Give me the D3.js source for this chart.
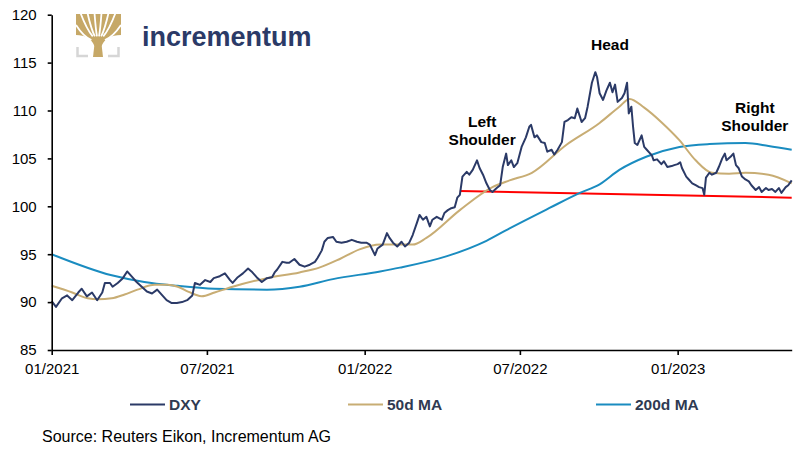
<!DOCTYPE html>
<html>
<head>
<meta charset="utf-8">
<script src="https://cdn.jsdelivr.net/npm/d3@7"></script>
<style>
  body { margin: 0; background: #fff; }
  #chart { width: 794px; height: 449px; }
  text { font-family: "Liberation Sans", Arial, sans-serif; }
  .axis path, .axis line { stroke: #000; stroke-width: 1.6; }
  .axis text { font-size: 15px; fill: #000; }
  .label-ann { font-size: 15.5px; font-weight: bold; fill: #000; }
  .legend text { font-family: "Liberation Sans Narrow", "Arial Narrow", sans-serif; font-size: 15.5px; font-weight: bold; fill: #2f3a52; }
  .source { font-family: "Liberation Sans Narrow", "Arial Narrow", sans-serif; font-size: 16px; fill: #000; }
</style>
</head>
<body>
<div id="chart"></div>
<script>
// DXY (date, index level)
const dxy = [
  ['2021-01-01', 90.1], ['2021-01-06', 89.5], ['2021-01-13', 90.4], ['2021-01-19', 90.7], ['2021-01-25', 90.2],
  ['2021-02-01', 91.0], ['2021-02-05', 91.4], ['2021-02-11', 90.6], ['2021-02-17', 91.0], ['2021-02-23', 90.2],
  ['2021-03-01', 91.0], ['2021-03-04', 92.0], ['2021-03-10', 92.0], ['2021-03-13', 91.6], ['2021-03-19', 92.0],
  ['2021-03-25', 92.5], ['2021-03-30', 93.2], ['2021-04-05', 92.6], ['2021-04-10', 92.1], ['2021-04-16', 91.6],
  ['2021-04-22', 91.1], ['2021-04-28', 90.9], ['2021-05-04', 91.3], ['2021-05-10', 90.7], ['2021-05-15', 90.2],
  ['2021-05-21', 89.9], ['2021-05-27', 89.9], ['2021-06-02', 90.0], ['2021-06-08', 90.2], ['2021-06-14', 90.7],
  ['2021-06-17', 92.0], ['2021-06-23', 91.8], ['2021-06-29', 92.3], ['2021-07-05', 92.1], ['2021-07-09', 92.5],
  ['2021-07-16', 92.7], ['2021-07-22', 93.0], ['2021-07-28', 92.3], ['2021-07-31', 92.0], ['2021-08-06', 92.6],
  ['2021-08-12', 93.0], ['2021-08-18', 93.5], ['2021-08-22', 93.2], ['2021-08-28', 92.6], ['2021-09-03', 92.1],
  ['2021-09-09', 92.5], ['2021-09-15', 92.6], ['2021-09-18', 93.1], ['2021-09-21', 93.4], ['2021-09-27', 94.2],
  ['2021-10-02', 94.1], ['2021-10-05', 94.1], ['2021-10-11', 94.5], ['2021-10-17', 93.9], ['2021-10-23', 93.7],
  ['2021-10-29', 93.9], ['2021-11-04', 94.2], ['2021-11-07', 94.6], ['2021-11-12', 95.4], ['2021-11-15', 96.3],
  ['2021-11-19', 96.7], ['2021-11-25', 96.8], ['2021-11-29', 96.3], ['2021-12-05', 96.2], ['2021-12-11', 96.3],
  ['2021-12-17', 96.5], ['2021-12-23', 96.3], ['2021-12-28', 96.2], ['2022-01-03', 96.2], ['2022-01-07', 96.0],
  ['2022-01-13', 94.9], ['2022-01-16', 95.6], ['2022-01-22', 96.0], ['2022-01-27', 97.2], ['2022-01-30', 96.7],
  ['2022-02-03', 96.2], ['2022-02-08', 95.8], ['2022-02-13', 96.3], ['2022-02-17', 95.8], ['2022-02-22', 96.2],
  ['2022-02-26', 97.0], ['2022-03-03', 98.3], ['2022-03-06', 99.1], ['2022-03-10', 98.6], ['2022-03-14', 98.9],
  ['2022-03-18', 97.9], ['2022-03-21', 98.6], ['2022-03-26', 98.9], ['2022-04-01', 98.6], ['2022-04-04', 99.3],
  ['2022-04-08', 99.6], ['2022-04-12', 99.8], ['2022-04-16', 99.9], ['2022-04-19', 100.9], ['2022-04-22', 101.2],
  ['2022-04-25', 103.1], ['2022-04-30', 103.6], ['2022-05-03', 103.3], ['2022-05-07', 103.8], ['2022-05-12', 104.8],
  ['2022-05-15', 104.0], ['2022-05-19', 103.3], ['2022-05-23', 102.4], ['2022-05-27', 101.7], ['2022-05-30', 101.5],
  ['2022-06-04', 101.9], ['2022-06-08', 102.2], ['2022-06-11', 104.1], ['2022-06-15', 105.5], ['2022-06-17', 104.3],
  ['2022-06-21', 104.8], ['2022-06-24', 104.1], ['2022-06-28', 104.5], ['2022-07-03', 106.2], ['2022-07-08', 107.2],
  ['2022-07-12', 108.3], ['2022-07-14', 108.5], ['2022-07-18', 107.2], ['2022-07-21', 107.4], ['2022-07-26', 106.7],
  ['2022-07-30', 106.6], ['2022-08-02', 105.7], ['2022-08-07', 105.9], ['2022-08-10', 105.4], ['2022-08-14', 105.9],
  ['2022-08-19', 106.7], ['2022-08-22', 108.8], ['2022-08-26', 109.0], ['2022-08-30', 109.3], ['2022-09-03', 109.2],
  ['2022-09-06', 110.2], ['2022-09-11', 108.8], ['2022-09-15', 109.2], ['2022-09-18', 110.4], ['2022-09-23', 112.9],
  ['2022-09-27', 114.0], ['2022-09-29', 113.5], ['2022-10-02', 111.8], ['2022-10-06', 111.1], ['2022-10-10', 112.1],
  ['2022-10-14', 112.9], ['2022-10-17', 111.9], ['2022-10-20', 112.7], ['2022-10-23', 110.9], ['2022-10-28', 111.3],
  ['2022-10-31', 111.8], ['2022-11-03', 112.9], ['2022-11-05', 109.7], ['2022-11-08', 110.4], ['2022-11-10', 108.3],
  ['2022-11-12', 106.6], ['2022-11-15', 106.4], ['2022-11-20', 107.4], ['2022-11-23', 106.2], ['2022-11-26', 105.9],
  ['2022-11-29', 105.6], ['2022-12-02', 105.3], ['2022-12-04', 104.8], ['2022-12-08', 104.9], ['2022-12-13', 104.4],
  ['2022-12-16', 104.7], ['2022-12-20', 104.1], ['2022-12-25', 104.2], ['2022-12-28', 104.3], ['2023-01-01', 104.4],
  ['2023-01-04', 104.6], ['2023-01-06', 104.0], ['2023-01-11', 103.1], ['2023-01-14', 102.8], ['2023-01-18', 102.4],
  ['2023-01-22', 102.2], ['2023-01-26', 102.0], ['2023-01-30', 101.9], ['2023-02-01', 101.2], ['2023-02-03', 103.0],
  ['2023-02-07', 103.5], ['2023-02-10', 103.3], ['2023-02-15', 103.5], ['2023-02-18', 104.1], ['2023-02-22', 105.0],
  ['2023-02-25', 105.5], ['2023-02-27', 104.8], ['2023-03-04', 105.2], ['2023-03-07', 105.5], ['2023-03-10', 104.3],
  ['2023-03-13', 104.0], ['2023-03-17', 103.1], ['2023-03-21', 102.8], ['2023-03-25', 102.6], ['2023-03-28', 102.2],
  ['2023-04-02', 101.7], ['2023-04-06', 102.0], ['2023-04-09', 101.5], ['2023-04-14', 101.9], ['2023-04-17', 101.7],
  ['2023-04-21', 101.8], ['2023-04-25', 101.5], ['2023-04-29', 101.9], ['2023-05-02', 101.4], ['2023-05-07', 102.0],
  ['2023-05-10', 102.2], ['2023-05-14', 102.7]
];

// 50 day moving average
const ma50 = [
  ['2021-01-01', 91.7], ['2021-01-25', 91.0], ['2021-02-12', 90.4], ['2021-02-24', 90.3], ['2021-03-12', 90.4],
  ['2021-03-27', 90.8], ['2021-04-11', 91.3], ['2021-05-01', 91.8], ['2021-05-16', 91.8], ['2021-05-28', 91.6],
  ['2021-06-09', 91.1], ['2021-06-17', 90.8], ['2021-06-25', 90.6], ['2021-07-10', 91.0], ['2021-07-31', 91.6],
  ['2021-09-09', 92.5], ['2021-10-17', 93.1], ['2021-11-09', 93.6], ['2021-12-03', 94.5], ['2021-12-26', 95.5],
  ['2022-01-19', 96.0], ['2022-02-03', 96.0], ['2022-02-26', 96.0], ['2022-03-14', 96.7], ['2022-04-22', 99.6],
  ['2022-05-30', 102.0], ['2022-06-19', 102.7], ['2022-07-15', 103.5], ['2022-08-24', 106.4], ['2022-10-02', 108.7],
  ['2022-10-25', 110.4], ['2022-11-06', 111.2], ['2022-11-23', 110.3], ['2022-12-14', 108.7], ['2023-01-03', 106.9],
  ['2023-01-22', 104.8], ['2023-02-10', 103.5], ['2023-03-02', 103.4], ['2023-03-21', 103.5], ['2023-04-17', 103.3],
  ['2023-05-14', 102.4]
];

// 200 day moving average
const ma200 = [
  ['2021-01-01', 95.0], ['2021-03-12', 92.8], ['2021-04-19', 92.1], ['2021-05-28', 91.7], ['2021-07-10', 91.4],
  ['2021-09-09', 91.3], ['2021-10-17', 91.6], ['2021-11-25', 92.4], ['2022-01-19', 93.2], ['2022-02-11', 93.6],
  ['2022-04-07', 94.8], ['2022-05-23', 96.4], ['2022-06-19', 97.7], ['2022-08-04', 99.8], ['2022-09-09', 101.4],
  ['2022-10-02', 102.3], ['2022-10-25', 103.8], ['2022-11-26', 105.2], ['2023-01-03', 106.2], ['2023-02-07', 106.5],
  ['2023-03-21', 106.6], ['2023-04-17', 106.3], ['2023-05-14', 105.9]
];

// neckline of the head and shoulders
const neckline = [['2022-04-22', 101.6], ['2023-05-14', 100.9]];

const yTicks = [85, 90, 95, 100, 105, 110, 115, 120];
const xTicks = ['2021-01-01', '2021-07-01', '2022-01-01', '2022-07-01', '2023-01-01'];

const series = [
  {key: 'DXY', values: dxy, color: '#2b3a67', width: 2},
  {key: '50d MA', values: ma50, color: '#c8ad74', width: 2},
  {key: '200d MA', values: ma200, color: '#1a8cc0', width: 2}
];

const annotations = [
  {date: '2022-10-14', y: 45, lines: ['Head']},
  {date: '2022-05-18', y: 122, lines: ['Left', 'Shoulder']},
  {date: '2023-04-01', y: 108, lines: ['Right', 'Shoulder']}
];

const cfg = {
  width: 794, height: 449,
  margin: {top: 14.7, right: 2.3, bottom: 99, left: 51.7},
  legendX: [130, 348, 596],
  gold: '#c6a867'
};
const w = cfg.width - cfg.margin.left - cfg.margin.right;
const h = cfg.height - cfg.margin.top - cfg.margin.bottom;

const parseDate = d3.timeParse('%Y-%m-%d');
const formatTick = d3.timeFormat('%m/%Y');

const x = d3.scaleTime()
  .domain([parseDate('2021-01-01'), parseDate('2023-05-14')])
  .range([0, w]);
const y = d3.scaleLinear().domain([85, 120]).range([h, 0]);

const svg = d3.select('#chart').append('svg')
  .attr('width', cfg.width)
  .attr('height', cfg.height);

// LOGO: gold crown cut by white branch gaps, trunk and grey base
const logo = svg.append('g').attr('class', 'logo');
logo.append('path')
  .attr('d', 'M76,14 L121,14 L121,35 Q106,35 101.5,46 L94.5,46 Q90,35 76,35 Z')
  .attr('fill', cfg.gold);
logo.append('path')
  .attr('d', 'M93,57 L103,57 L101.5,44 L94.5,44 Z')
  .attr('fill', cfg.gold);
const trunk = [98, 46];
const gaps = [[80.5, 14], [87.5, 14], [94.5, 14], [101.5, 14], [108.5, 14], [115.5, 14], [76, 26], [121, 26]];
gaps.forEach(function(p) {
  const sx = trunk[0] + 0.3 * (p[0] - trunk[0]), sy = trunk[1] + 0.3 * (p[1] - trunk[1]);
  logo.append('path')
    .attr('d', 'M' + sx + ',' + sy + ' Q' + ((sx + p[0]) / 2) + ',' + ((sy + p[1]) / 2 + 4) + ' ' + p[0] + ',' + (p[1] - 1))
    .attr('fill', 'none')
    .attr('stroke', '#fff')
    .attr('stroke-width', 1.8);
});
logo.append('path')
  .attr('d', 'M77.5,47 L77.5,56 L88,56 M118.5,47 L118.5,56 L108,56')
  .attr('fill', 'none')
  .attr('stroke', '#d6d6d6')
  .attr('stroke-width', 2.5);
logo.append('text')
  .attr('x', 142)
  .attr('y', 46)
  .attr('font-size', '27px')
  .attr('font-weight', 'bold')
  .attr('fill', '#2b3a67')
  .text('incrementum');

const g = svg.append('g')
  .attr('transform', 'translate(' + cfg.margin.left + ',' + cfg.margin.top + ')');

const line = d3.line()
  .x(function(d) { return x(parseDate(d[0])); })
  .y(function(d) { return y(d[1]); });
const smooth = d3.line()
  .curve(d3.curveMonotoneX)
  .x(function(d) { return x(parseDate(d[0])); })
  .y(function(d) { return y(d[1]); });

// LINES
g.append('path')
  .attr('d', line(neckline))
  .attr('fill', 'none')
  .attr('stroke', '#ff0000')
  .attr('stroke-width', 2);

g.selectAll('.series')
  .data(series.slice().reverse())
  .enter().append('path')
  .attr('class', 'series')
  .attr('fill', 'none')
  .attr('stroke', function(d) { return d.color; })
  .attr('stroke-width', function(d) { return d.width; })
  .attr('stroke-linejoin', 'round')
  .attr('d', function(d) {
    return d.key === 'DXY' ? line(d.values) : smooth(d.values);
  });

// AXIS
g.append('g')
  .attr('class', 'axis axis--x')
  .attr('transform', 'translate(0,' + h + ')')
  .call(d3.axisBottom(x)
    .tickValues(xTicks.map(parseDate))
    .tickFormat(formatTick)
    .tickSizeInner(5)
    .tickSizeOuter(0)
    .tickPadding(8));

g.append('g')
  .attr('class', 'axis axis--y')
  .call(d3.axisLeft(y)
    .tickValues(yTicks)
    .tickSizeInner(4)
    .tickSizeOuter(0)
    .tickPadding(11));

// ANNOTATIONS
annotations.forEach(function(a) {
  const t = g.append('text')
    .attr('class', 'label-ann')
    .attr('text-anchor', 'middle')
    .attr('x', x(parseDate(a.date)))
    .attr('y', a.y - cfg.margin.top + 5);
  a.lines.forEach(function(l, i) {
    t.append('tspan')
      .attr('x', x(parseDate(a.date)))
      .attr('dy', i === 0 ? 0 : 18.5)
      .text(l);
  });
});

// LEGEND
const legend = svg.append('g').attr('class', 'legend');
series.forEach(function(s, i) {
  legend.append('line')
    .attr('x1', cfg.legendX[i]).attr('x2', cfg.legendX[i] + 35)
    .attr('y1', 404.5).attr('y2', 404.5)
    .attr('stroke', s.color)
    .attr('stroke-width', 2);
  legend.append('text')
    .attr('x', cfg.legendX[i] + 39)
    .attr('y', 410)
    .text(s.key);
});

// SOURCE
svg.append('text')
  .attr('class', 'source')
  .attr('x', 42)
  .attr('y', 442)
  .text('Source: Reuters Eikon, Incrementum AG');
</script>
</body>
</html>
